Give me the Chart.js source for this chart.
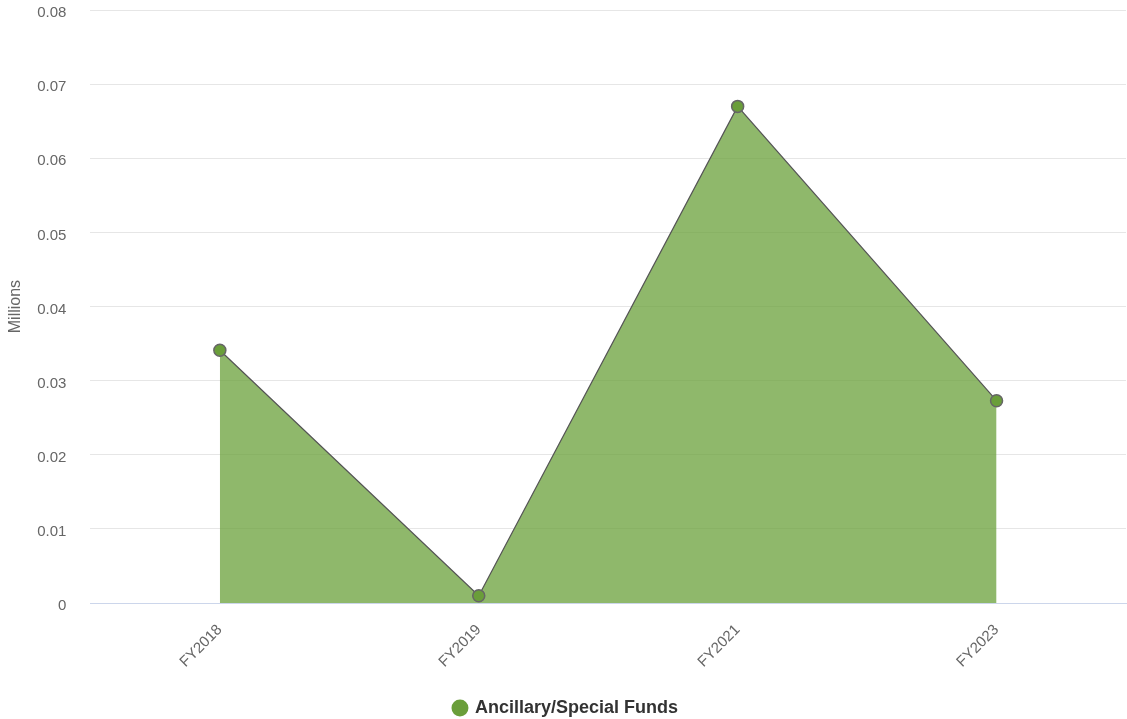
<!DOCTYPE html>
<html>
<head>
<meta charset="utf-8">
<script src="https://cdn.jsdelivr.net/npm/chart.js@4"></script>
<style>
  html, body { margin: 0; padding: 0; background: #fff; }
  #wrap { width: 1127px; height: 719px; }
</style>
</head>
<body>
<div id="wrap"><canvas id="chart"></canvas></div>
<script>
const categories = ['FY2018', 'FY2019', 'FY2021', 'FY2023'];
const fundValues = [0.0341, 0.001, 0.067, 0.0273];
const seriesName = 'Ancillary/Special Funds';

Chart.defaults.font.family = '"Liberation Sans", Arial, sans-serif';
Chart.defaults.color = '#666666';

const ctx = document.getElementById('chart');

new Chart(ctx, {
  type: 'line',
  data: {
    labels: categories,
    datasets: [{
      label: seriesName,
      data: fundValues,
      fill: 'origin',
      backgroundColor: 'rgba(106,160,58,0.75)',
      borderColor: '#555555',
      borderWidth: 1.2,
      tension: 0,
      pointRadius: 6,
      pointHoverRadius: 6,
      pointBackgroundColor: '#6a9e3a',
      pointBorderColor: '#666666',
      pointBorderWidth: 1.5
    }]
  },
  options: {
    responsive: true,
    maintainAspectRatio: false,
    animation: false,
    // chart area should sit at roughly x 90..1126, y 10..603
    layout: { autoPadding: false, padding: { top: 0, right: 1, left: 6, bottom: -8 } },
    plugins: {
      tooltip: { enabled: false },
      legend: {
        position: 'bottom',
        labels: {
          usePointStyle: true,
          pointStyle: 'circle',
          boxWidth: 12,
          boxHeight: 12,
          padding: 10,
          color: '#333333',
          font: { size: 18, weight: 'bold' },
          generateLabels: function (chart) {
            return [{
              text: seriesName,
              fillStyle: '#6a9e3a',
              strokeStyle: '#6a9e3a',
              lineWidth: 0,
              pointStyle: 'circle',
              datasetIndex: 0,
              fontColor: '#333333'
            }];
          }
        }
      }
    },
    scales: {
      x: {
        offset: true,
        grid: { display: false, drawTicks: false },
        border: { color: '#ccd6eb', width: 1 },
        ticks: {
          maxRotation: 45,
          minRotation: 45,
          padding: 18,
          color: '#666666',
          font: { size: 15 }
        }
      },
      y: {
        min: 0,
        max: 0.08,
        // tick padding would otherwise push the plot down from the top
        afterFit: function (scale) { scale.paddingTop = 10; },
        grid: {
          drawTicks: false,
          color: function (c) { return c.tick.value === 0 ? '#ccd6eb' : '#e6e6e6'; }
        },
        border: { display: false },
        ticks: {
          stepSize: 0.01,
          padding: 24,
          labelOffset: 3,
          color: '#666666',
          font: { size: 15 },
          callback: function (v) { return Number(v.toFixed(2)).toString(); }
        },
        title: {
          display: true,
          text: 'Millions',
          color: '#666666',
          font: { size: 16 },
          padding: { top: 0, bottom: -12 }
        }
      }
    }
  }
});
</script>
</body>
</html>
